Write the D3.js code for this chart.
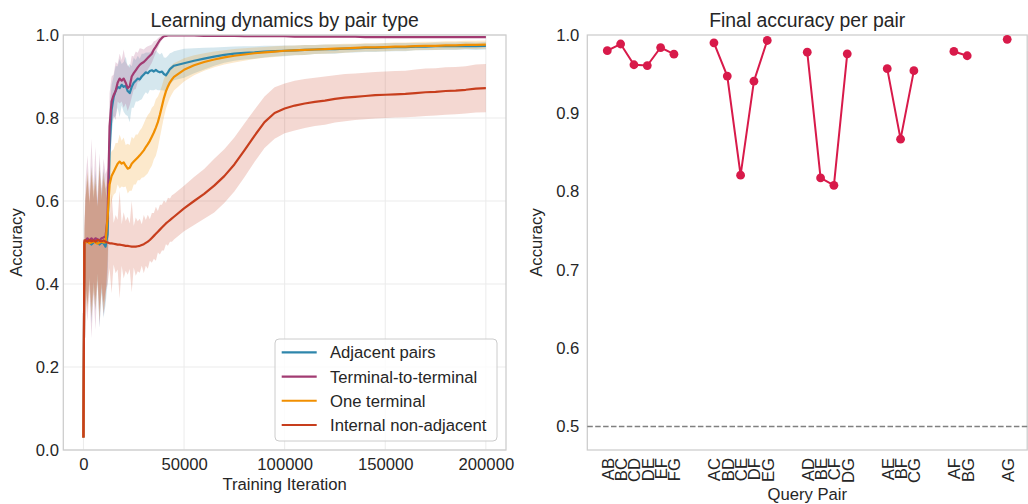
<!DOCTYPE html>
<html><head><meta charset="utf-8">
<script src="https://cdn.jsdelivr.net/npm/d3@7"></script>
<style>
body{margin:0;background:#fff;}
svg text{font-family:"Liberation Sans",Arial,sans-serif;fill:#262626;}
</style></head><body>
<svg id="chart" width="1028" height="504"></svg>
<script>
// ---------------- data: left panel ----------------
const iterations = [0, 500,
 1000, 2000, 3000, 4000, 5000, 6000, 7000, 8000, 9000, 10000, 11000,
 12000, 13000, 14000, 15000, 16000, 17000, 18000, 19000, 20000, 21000, 22000, 23000, 24000, 25000, 26000, 27000, 28000, 29000, 30000, 31000, 32000, 33000, 34000, 35000, 36000, 37000, 38000, 39000, 40000, 41000, 42000, 43000, 44000, 45000,
 50000, 55000, 60000, 65000, 70000, 75000, 80000, 85000, 90000, 95000, 100000, 105000, 110000, 115000, 120000, 125000, 130000, 135000, 140000, 145000, 150000, 155000, 160000, 165000, 170000, 175000, 180000, 185000, 190000, 195000, 200000];

const adjacentMean = [0.03, 0.50,
 0.50, 0.505, 0.50, 0.495, 0.50, 0.505, 0.50, 0.495, 0.50, 0.498, 0.49,
 0.52, 0.72, 0.82, 0.85, 0.865, 0.875, 0.872, 0.88, 0.875, 0.878, 0.865, 0.86, 0.875, 0.885, 0.89, 0.895, 0.893, 0.9, 0.905, 0.91, 0.908, 0.913, 0.915, 0.912, 0.916, 0.912, 0.91, 0.912, 0.906, 0.903, 0.91, 0.918, 0.922, 0.926,
 0.932, 0.938, 0.943, 0.948, 0.952, 0.955, 0.957, 0.958, 0.96, 0.961, 0.962, 0.963, 0.964, 0.965, 0.966, 0.966, 0.967, 0.968, 0.969, 0.969, 0.97, 0.971, 0.971, 0.972, 0.972, 0.973, 0.973, 0.973, 0.974, 0.973, 0.974];
const adjacentStd = [0.01, 0.03,
 0.10, 0.16, 0.09, 0.19, 0.11, 0.17, 0.09, 0.20, 0.12, 0.18, 0.14,
 0.12, 0.10, 0.06, 0.05, 0.06, 0.05, 0.07, 0.05, 0.06, 0.07, 0.06, 0.07, 0.05, 0.06, 0.05, 0.055, 0.05, 0.055, 0.05, 0.048, 0.05, 0.045, 0.048, 0.045, 0.047, 0.045, 0.043, 0.045, 0.04, 0.042, 0.04, 0.038, 0.036, 0.035,
 0.035, 0.03, 0.026, 0.022, 0.019, 0.017, 0.016, 0.015, 0.014, 0.013, 0.013, 0.012, 0.012, 0.011, 0.011, 0.011, 0.01, 0.01, 0.01, 0.01, 0.01, 0.01, 0.01, 0.009, 0.009, 0.009, 0.009, 0.009, 0.009, 0.009, 0.009];

const terminalMean = [0.03, 0.50,
 0.505, 0.51, 0.505, 0.51, 0.505, 0.51, 0.508, 0.505, 0.51, 0.512, 0.515,
 0.56, 0.78, 0.84, 0.855, 0.865, 0.885, 0.895, 0.89, 0.895, 0.885, 0.872, 0.876, 0.9, 0.908, 0.915, 0.922, 0.928, 0.932, 0.935, 0.94, 0.945, 0.95, 0.955, 0.965, 0.972, 0.98, 0.988, 0.993, 0.997, 0.998, 0.999, 0.999, 0.999, 0.999,
 0.999, 0.999, 0.998, 0.998, 0.998, 0.998, 0.997, 0.997, 0.997, 0.997, 0.997, 0.996, 0.996, 0.996, 0.996, 0.996, 0.996, 0.996, 0.995, 0.995, 0.995, 0.995, 0.995, 0.995, 0.995, 0.995, 0.995, 0.995, 0.995, 0.995, 0.995];
const terminalStd = [0.01, 0.04,
 0.14, 0.20, 0.12, 0.24, 0.13, 0.22, 0.10, 0.21, 0.12, 0.19, 0.15,
 0.12, 0.08, 0.06, 0.05, 0.07, 0.045, 0.06, 0.05, 0.07, 0.05, 0.055, 0.045, 0.05, 0.04, 0.045, 0.035, 0.04, 0.035, 0.03, 0.03, 0.028, 0.025, 0.022, 0.02, 0.015, 0.012, 0.008, 0.005, 0.003, 0.002, 0.002, 0.002, 0.002, 0.002,
 0.002, 0.002, 0.002, 0.002, 0.002, 0.002, 0.002, 0.002, 0.002, 0.002, 0.002, 0.002, 0.002, 0.002, 0.002, 0.002, 0.002, 0.002, 0.002, 0.002, 0.002, 0.002, 0.002, 0.002, 0.002, 0.002, 0.002, 0.002, 0.002, 0.002, 0.002];

const oneTerminalMean = [0.03, 0.50,
 0.50, 0.502, 0.498, 0.50, 0.503, 0.50, 0.497, 0.50, 0.502, 0.50, 0.50,
 0.56, 0.64, 0.66, 0.67, 0.68, 0.69, 0.695, 0.69, 0.693, 0.685, 0.678, 0.68, 0.69, 0.695, 0.70, 0.705, 0.71, 0.716, 0.722, 0.73, 0.737, 0.745, 0.755, 0.765, 0.777, 0.79, 0.808, 0.828, 0.848, 0.864, 0.876, 0.886, 0.893, 0.899,
 0.916, 0.927, 0.935, 0.941, 0.946, 0.95, 0.953, 0.956, 0.958, 0.96, 0.962, 0.963, 0.964, 0.965, 0.966, 0.967, 0.968, 0.969, 0.97, 0.97, 0.971, 0.972, 0.972, 0.973, 0.974, 0.974, 0.975, 0.975, 0.976, 0.976, 0.977];
const oneTerminalStd = [0.01, 0.03,
 0.11, 0.17, 0.10, 0.18, 0.12, 0.16, 0.09, 0.19, 0.11, 0.17, 0.13,
 0.10, 0.07, 0.06, 0.055, 0.06, 0.05, 0.065, 0.055, 0.06, 0.05, 0.06, 0.055, 0.065, 0.055, 0.06, 0.055, 0.06, 0.06, 0.065, 0.068, 0.07, 0.068, 0.07, 0.065, 0.068, 0.062, 0.055, 0.05, 0.046, 0.042, 0.04, 0.037, 0.035, 0.033,
 0.028, 0.024, 0.021, 0.019, 0.017, 0.016, 0.015, 0.014, 0.013, 0.013, 0.012, 0.012, 0.012, 0.011, 0.011, 0.011, 0.011, 0.01, 0.01, 0.01, 0.01, 0.01, 0.01, 0.01, 0.01, 0.01, 0.01, 0.01, 0.01, 0.01, 0.01];

const internalMean = [0.03, 0.505,
 0.505, 0.502, 0.506, 0.503, 0.505, 0.502, 0.506, 0.504, 0.503, 0.505, 0.502,
 0.50, 0.498, 0.498, 0.497, 0.496, 0.495, 0.495, 0.494, 0.493, 0.492, 0.492, 0.491, 0.49, 0.49, 0.49, 0.491, 0.492, 0.494, 0.496, 0.499, 0.502, 0.506, 0.511, 0.516, 0.521, 0.526, 0.531, 0.536, 0.541, 0.546, 0.55, 0.554, 0.558, 0.562,
 0.582, 0.6, 0.617, 0.637, 0.66, 0.688, 0.722, 0.757, 0.79, 0.812, 0.823, 0.83, 0.835, 0.839, 0.842, 0.846, 0.849, 0.851, 0.853, 0.855, 0.856, 0.857, 0.858, 0.86, 0.862, 0.863, 0.865, 0.866, 0.868, 0.871, 0.872];
const internalStd = [0.01, 0.03,
 0.10, 0.15, 0.09, 0.16, 0.10, 0.14, 0.08, 0.17, 0.10, 0.15, 0.12,
 0.10, 0.06, 0.12, 0.05, 0.07, 0.06, 0.13, 0.05, 0.08, 0.06, 0.07, 0.055, 0.11, 0.05, 0.07, 0.06, 0.065, 0.05, 0.07, 0.055, 0.065, 0.05, 0.06, 0.055, 0.065, 0.05, 0.06, 0.055, 0.06, 0.05, 0.058, 0.052, 0.056, 0.055,
 0.055, 0.058, 0.06, 0.065, 0.065, 0.065, 0.065, 0.063, 0.062, 0.062, 0.06, 0.06, 0.059, 0.058, 0.058, 0.057, 0.057, 0.056, 0.056, 0.056, 0.056, 0.056, 0.056, 0.057, 0.057, 0.057, 0.057, 0.057, 0.057, 0.058, 0.058];

const seriesNames = ["Adjacent pairs", "Terminal-to-terminal", "One terminal", "Internal non-adjacent"];
const seriesColors = ["#2E86AB", "#A23B72", "#F18F01", "#C73E1D"];
const leftXTicks = [0, 50000, 100000, 150000, 200000];
const leftYTicks = [0.0, 0.2, 0.4, 0.6, 0.8, 1.0];

// ---------------- data: right panel ----------------
const pairLabels = ["AB","BC","CD","DE","EF","FG","AC","BD","CE","DF","EG","AD","BE","CF","DG","AE","BF","CG","AF","BG","AG"];
const pairDistance = [1,1,1,1,1,1,2,2,2,2,2,3,3,3,3,4,4,4,5,5,6];
const finalAccuracy = [0.980, 0.9885, 0.962, 0.961, 0.984, 0.9755, 0.990, 0.9475, 0.821, 0.941, 0.993, 0.978, 0.8175, 0.808, 0.976, 0.957, 0.867, 0.9545, 0.979, 0.9735, 0.9945];
const rightYTicks = [0.5, 0.6, 0.7, 0.8, 0.9, 1.0];
const chanceLevel = 0.5;

// ---------------- drawing ----------------
const svg = d3.select("#chart");
const FS = 16.67;
const gridColor = "#ebebeb", spineColor = "#cccccc";

// ===== Left panel =====
const L = {x0: 63.3, x1: 506, y0: 35, y1: 450};
const xL = d3.scaleLinear().domain([-10000, 210000]).range([L.x0, L.x1]);
const yL = d3.scaleLinear().domain([0, 1]).range([L.y1, L.y0]);
const defs = svg.append("defs");
defs.append("clipPath").attr("id", "clipL").append("rect")
  .attr("x", L.x0).attr("y", L.y0).attr("width", L.x1 - L.x0).attr("height", L.y1 - L.y0);

const gL = svg.append("g");
gL.append("g").selectAll("line").data(leftXTicks).join("line")
  .attr("x1", d => xL(d)).attr("x2", d => xL(d)).attr("y1", L.y0).attr("y2", L.y1)
  .attr("stroke", gridColor).attr("stroke-width", 1);
gL.append("g").selectAll("line").data(leftYTicks).join("line")
  .attr("y1", d => yL(d)).attr("y2", d => yL(d)).attr("x1", L.x0).attr("x2", L.x1)
  .attr("stroke", gridColor).attr("stroke-width", 1);

const seriesData = [
  {mean: adjacentMean, std: adjacentStd},
  {mean: terminalMean, std: terminalStd},
  {mean: oneTerminalMean, std: oneTerminalStd},
  {mean: internalMean, std: internalStd}
].map((s, k) => ({name: seriesNames[k], color: seriesColors[k],
  pts: iterations.map((it, i) => ({it, m: s.mean[i], s: s.std[i]}))}));

const plotG = gL.append("g").attr("clip-path", "url(#clipL)");
const area = d3.area().x(d => xL(d.it)).y0(d => yL(d.m - d.s)).y1(d => yL(d.m + d.s));
const line = d3.line().x(d => xL(d.it)).y(d => yL(d.m));
seriesData.forEach(s => {
  plotG.append("path").attr("d", area(s.pts)).attr("fill", s.color).attr("fill-opacity", 0.2);
});
seriesData.forEach(s => {
  plotG.append("path").attr("d", line(s.pts)).attr("fill", "none")
    .attr("stroke", s.color).attr("stroke-width", 2.2).attr("stroke-linejoin", "round");
});

// spines
gL.append("rect").attr("x", L.x0).attr("y", L.y0).attr("width", L.x1 - L.x0).attr("height", L.y1 - L.y0)
  .attr("fill", "none").attr("stroke", spineColor).attr("stroke-width", 1.25);

// axes
const axXL = gL.append("g").attr("transform", `translate(0,${L.y1})`)
  .call(d3.axisBottom(xL).tickValues(leftXTicks).tickSize(0).tickPadding(8).tickFormat(d3.format("d")));
const axYL = gL.append("g").attr("transform", `translate(${L.x0},0)`)
  .call(d3.axisLeft(yL).tickValues(leftYTicks).tickSize(0).tickPadding(4.3).tickFormat(d3.format(".1f")));
[axXL, axYL].forEach(a => {
  a.select(".domain").remove();
  a.selectAll("text").attr("font-size", FS).attr("fill", "#262626")
    .style("font-family", '"Liberation Sans", Arial, sans-serif');
});

gL.append("text").attr("x", (L.x0 + L.x1) / 2).attr("y", 27).attr("text-anchor", "middle")
  .attr("font-size", 19.4).text("Learning dynamics by pair type");
gL.append("text").attr("x", (L.x0 + L.x1) / 2).attr("y", 490).attr("text-anchor", "middle")
  .attr("font-size", FS).text("Training Iteration");
gL.append("text").attr("transform", `translate(21.5,${(L.y0 + L.y1) / 2}) rotate(-90)`)
  .attr("text-anchor", "middle").attr("font-size", FS).text("Accuracy");

// legend
const lg = gL.append("g");
lg.append("rect").attr("x", 275).attr("y", 339).attr("width", 222).attr("height", 102)
  .attr("rx", 4).attr("fill", "#ffffff").attr("fill-opacity", 0.8)
  .attr("stroke", "#cccccc").attr("stroke-width", 1);
const rowY = d3.scaleLinear().domain([0, 3]).range([352.3, 425]);
seriesData.forEach((s, k) => {
  lg.append("line").attr("x1", 281.7).attr("x2", 316.7).attr("y1", rowY(k)).attr("y2", rowY(k))
    .attr("stroke", s.color).attr("stroke-width", 2.2);
  lg.append("text").attr("x", 330).attr("y", rowY(k)).attr("dy", "0.36em")
    .attr("font-size", FS).text(s.name);
});

// ===== Right panel =====
const R = {x0: 587.3, x1: 1027.2, y0: 35, y1: 450};
const slot = pairLabels.map((p, i) => i + 2 * (pairDistance[i] - 1));
const xR = d3.scaleLinear().domain([-1.5, 31.5]).range([R.x0, R.x1]);
const yR = d3.scaleLinear().domain([0.47, 1.0]).range([R.y1, R.y0]);
const gR = svg.append("g");

gR.append("rect").attr("x", R.x0).attr("y", R.y0).attr("width", R.x1 - R.x0).attr("height", R.y1 - R.y0)
  .attr("fill", "none").attr("stroke", spineColor).attr("stroke-width", 1.25);

gR.append("line").attr("x1", R.x0).attr("x2", R.x1).attr("y1", yR(chanceLevel)).attr("y2", yR(chanceLevel))
  .attr("stroke", "#808080").attr("stroke-width", 1.5).attr("stroke-dasharray", "5.5,2.4");

const pts = pairLabels.map((p, i) => ({p, d: pairDistance[i], s: slot[i], v: finalAccuracy[i]}));
const groups = d3.groups(pts, d => d.d);
const lineR = d3.line().x(d => xR(d.s)).y(d => yR(d.v));
const crimson = "#d81a4a";
groups.forEach(([d, arr]) => {
  gR.append("path").attr("d", lineR(arr)).attr("fill", "none").attr("stroke", crimson).attr("stroke-width", 2);
});
gR.append("g").selectAll("circle").data(pts).join("circle")
  .attr("cx", d => xR(d.s)).attr("cy", d => yR(d.v)).attr("r", 4.4).attr("fill", crimson);

const axXR = gR.append("g").attr("transform", `translate(0,${R.y1})`)
  .call(d3.axisBottom(xR).tickValues(slot).tickSize(0).tickFormat((d, i) => pairLabels[i]));
axXR.selectAll("text").attr("transform", "rotate(-90)").attr("x", -8).attr("y", 0)
  .attr("dy", "0.36em").attr("text-anchor", "end");
const axYR = gR.append("g").attr("transform", `translate(${R.x0},0)`)
  .call(d3.axisLeft(yR).tickValues(rightYTicks).tickSize(0).tickPadding(8).tickFormat(d3.format(".1f")));
[axXR, axYR].forEach(a => {
  a.select(".domain").remove();
  a.selectAll("text").attr("font-size", FS).attr("fill", "#262626")
    .style("font-family", '"Liberation Sans", Arial, sans-serif');
});

gR.append("text").attr("x", (R.x0 + R.x1) / 2).attr("y", 27).attr("text-anchor", "middle")
  .attr("font-size", 19.4).text("Final accuracy per pair");
gR.append("text").attr("x", (R.x0 + R.x1) / 2).attr("y", 500).attr("text-anchor", "middle")
  .attr("font-size", FS).text("Query Pair");
gR.append("text").attr("transform", `translate(541.5,${(R.y0 + R.y1) / 2}) rotate(-90)`)
  .attr("text-anchor", "middle").attr("font-size", FS).text("Accuracy");
</script>
</body></html>
